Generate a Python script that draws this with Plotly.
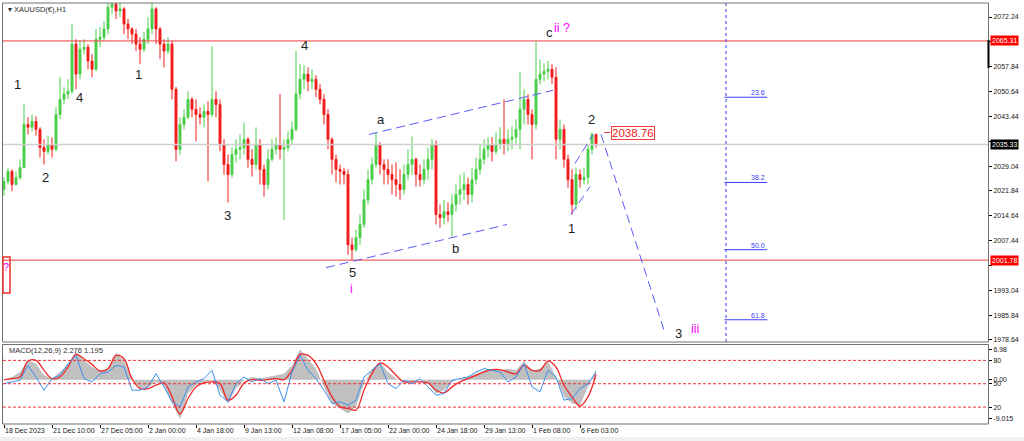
import plotly.graph_objects as go

W, H = 1024, 441

# ---------------- price data (candles, one per ~5 H1 bars) ----------------
OPEN = [2022.2, 2024.6, 2027.5, 2023.7, 2025.7, 2028.6, 2041.1, 2040.3, 2042.0, 2039.7,
        2034.4, 2033.3, 2035.3, 2033.9, 2044.0, 2048.4, 2049.9, 2050.7, 2064.4, 2055.7,
        2062.9, 2063.5, 2059.5, 2057.1, 2065.8, 2066.4, 2068.8, 2075.1, 2076.0, 2074.0,
        2074.6, 2070.2, 2068.8, 2067.3, 2064.4, 2062.9, 2065.8, 2068.8, 2074.6, 2068.8,
        2064.4, 2062.4, 2064.4, 2051.3, 2033.9, 2041.1, 2043.2, 2048.4, 2045.5, 2044.0,
        2043.2, 2044.9, 2044.0, 2048.4, 2046.9, 2035.3, 2029.5, 2026.6, 2032.4, 2033.9,
        2034.4, 2036.8, 2031.0, 2029.5, 2035.3, 2028.1, 2023.7, 2031.0, 2033.9, 2035.3,
        2033.9, 2034.4, 2036.8, 2039.7, 2049.9, 2054.2, 2055.7, 2053.6, 2054.2, 2051.3,
        2048.4, 2044.0, 2036.8, 2031.0, 2028.1, 2027.5, 2026.6, 2006.2, 2004.8, 2008.3,
        2012.1, 2019.3, 2025.1, 2029.5, 2035.3, 2029.5, 2028.1, 2026.6, 2025.1, 2023.7,
        2022.2, 2026.6, 2029.5, 2031.0, 2026.6, 2025.1, 2028.1, 2031.0, 2035.3, 2015.0,
        2014.1, 2015.8, 2015.0, 2017.9, 2020.8, 2022.2, 2023.7, 2020.8, 2025.1, 2028.1,
        2031.0, 2033.9, 2035.3, 2033.3, 2035.3, 2036.8, 2035.3, 2036.8, 2037.4, 2039.7,
        2045.5, 2048.4, 2044.0, 2041.1, 2054.2, 2055.7, 2056.5, 2057.1, 2054.8, 2036.8,
        2039.7, 2031.0, 2025.1, 2017.9, 2026.6, 2025.1, 2025.7, 2033.9, 2038.2]
HIGH = [2025.7, 2028.6, 2028.1, 2027.5, 2031.0, 2046.9, 2043.2, 2044.0, 2043.5, 2040.3,
        2036.8, 2037.9, 2037.4, 2046.1, 2054.8, 2051.9, 2054.2, 2070.2, 2065.8, 2065.3,
        2065.8, 2064.4, 2061.5, 2068.8, 2069.3, 2071.1, 2076.6, 2076.9, 2076.6, 2076.9,
        2075.1, 2071.7, 2069.3, 2068.8, 2066.4, 2067.9, 2072.2, 2076.6, 2075.1, 2069.3,
        2065.8, 2066.4, 2065.3, 2052.0, 2043.2, 2045.5, 2050.7, 2049.0, 2048.4, 2046.1,
        2046.9, 2047.8, 2063.8, 2050.7, 2048.4, 2036.8, 2032.4, 2034.4, 2036.8, 2038.2,
        2041.7, 2037.4, 2033.9, 2040.3, 2036.8, 2029.5, 2033.9, 2036.8, 2037.4, 2049.9,
        2036.8, 2039.1, 2042.0, 2062.4, 2058.6, 2058.3, 2057.7, 2057.1, 2055.4, 2052.8,
        2049.9, 2045.5, 2037.4, 2032.4, 2029.5, 2028.6, 2028.1, 2008.3, 2010.6, 2015.0,
        2022.2, 2028.1, 2031.5, 2038.8, 2036.0, 2031.0, 2031.0, 2029.5, 2030.1, 2028.1,
        2029.5, 2033.9, 2037.6, 2031.5, 2029.5, 2031.0, 2034.4, 2036.8, 2036.5, 2017.9,
        2019.3, 2018.5, 2020.8, 2023.7, 2026.6, 2027.2, 2025.7, 2028.6, 2031.5, 2035.3,
        2036.8, 2037.4, 2037.4, 2038.8, 2040.3, 2048.4, 2039.7, 2040.6, 2042.6, 2056.3,
        2051.3, 2049.9, 2045.5, 2065.3, 2060.0, 2058.9, 2059.5, 2058.6, 2057.7, 2042.6,
        2041.1, 2032.4, 2028.1, 2028.6, 2028.1, 2028.6, 2035.3, 2038.8, 2038.5]
LOW = [2020.5, 2023.7, 2021.7, 2023.4, 2025.1, 2028.6, 2038.2, 2039.1, 2037.9, 2031.5,
       2029.5, 2032.4, 2031.5, 2033.3, 2042.6, 2046.9, 2048.4, 2049.9, 2051.3, 2054.2,
       2061.5, 2057.1, 2054.8, 2056.5, 2063.5, 2065.3, 2067.3, 2073.1, 2071.7, 2072.2,
       2067.3, 2065.8, 2064.4, 2062.4, 2058.6, 2062.1, 2064.4, 2067.3, 2064.4, 2060.0,
       2057.7, 2061.5, 2048.4, 2030.4, 2032.4, 2039.7, 2042.6, 2043.2, 2036.2, 2041.1,
       2040.3, 2024.6, 2043.2, 2043.2, 2033.3, 2026.6, 2018.5, 2025.7, 2030.1, 2031.0,
       2032.4, 2028.6, 2026.0, 2028.1, 2023.7, 2020.2, 2022.2, 2030.4, 2032.4, 2031.0,
       2013.5, 2033.3, 2035.3, 2039.1, 2048.4, 2051.3, 2050.7, 2051.3, 2049.0, 2046.9,
       2041.1, 2033.9, 2026.6, 2024.3, 2023.7, 2023.7, 2003.3, 2001.8, 2004.2, 2006.2,
       2011.2, 2017.9, 2023.7, 2028.6, 2026.6, 2023.7, 2023.7, 2020.8, 2020.2, 2019.3,
       2020.8, 2025.1, 2026.6, 2023.1, 2023.1, 2023.7, 2025.1, 2028.1, 2012.1, 2011.2,
       2012.1, 2012.9, 2008.6, 2015.8, 2017.9, 2019.3, 2017.9, 2018.5, 2023.7, 2026.6,
       2029.5, 2031.5, 2030.4, 2032.4, 2033.9, 2032.4, 2033.3, 2033.9, 2035.3, 2033.9,
       2041.1, 2041.1, 2031.0, 2039.7, 2052.8, 2053.6, 2054.2, 2052.8, 2031.0, 2033.9,
       2028.6, 2022.8, 2015.0, 2016.5, 2022.8, 2023.7, 2023.7, 2032.4, 2034.4]
CLOSE = [2024.6, 2027.5, 2023.7, 2025.7, 2028.6, 2041.1, 2040.3, 2042.0, 2039.7, 2034.4,
         2033.3, 2035.3, 2033.9, 2044.0, 2048.4, 2049.9, 2050.7, 2064.4, 2055.7, 2062.9,
         2063.5, 2059.5, 2057.1, 2065.8, 2066.4, 2068.8, 2075.1, 2076.0, 2074.0, 2074.6,
         2070.2, 2068.8, 2067.3, 2064.4, 2062.9, 2065.8, 2068.8, 2074.6, 2068.8, 2064.4,
         2062.4, 2064.4, 2051.3, 2033.9, 2041.1, 2043.2, 2048.4, 2045.5, 2044.0, 2043.2,
         2044.9, 2044.0, 2048.4, 2046.9, 2035.3, 2029.5, 2026.6, 2032.4, 2033.9, 2034.4,
         2036.8, 2031.0, 2029.5, 2035.3, 2028.1, 2023.7, 2031.0, 2033.9, 2035.3, 2033.9,
         2034.4, 2036.8, 2039.7, 2049.9, 2054.2, 2055.7, 2053.6, 2054.2, 2051.3, 2048.4,
         2044.0, 2036.8, 2031.0, 2028.1, 2027.5, 2026.6, 2006.2, 2004.8, 2008.3, 2012.1,
         2019.3, 2025.1, 2029.5, 2035.3, 2029.5, 2028.1, 2026.6, 2025.1, 2023.7, 2022.2,
         2026.6, 2029.5, 2031.0, 2026.6, 2025.1, 2028.1, 2031.0, 2035.3, 2015.0, 2014.1,
         2015.8, 2015.0, 2017.9, 2020.8, 2022.2, 2023.7, 2020.8, 2025.1, 2028.1, 2031.0,
         2033.9, 2035.3, 2033.3, 2035.3, 2036.8, 2035.3, 2036.8, 2037.4, 2039.7, 2045.5,
         2048.4, 2044.0, 2041.1, 2054.2, 2055.7, 2056.5, 2057.1, 2054.8, 2036.8, 2039.7,
         2031.0, 2025.1, 2017.9, 2026.6, 2025.1, 2025.7, 2033.9, 2038.2, 2035.3]
BAR = list(range(len(CLOSE)))

# ---------------- MACD panel data (every 2nd candle) ----------------
MACD_BAR = list(range(0, len(CLOSE), 2))
MACD_HIST = [-0.11, 0.65, 1.79, 4.61, 3.70, 1.03, 0.27, 1.79, 3.54, 6.36,
             4.46, 2.93, 2.17, 2.55, 6.13, 4.46, 0.27, -2.02, -1.64, -0.50,
             -1.26, -5.45, -9.0, -3.16, -1.26, -0.50, -0.11, -2.40, -5.45, -2.02,
             -0.11, 0.65, 0.27, 0.65, 1.03, 1.41, 3.31, 6.98, 4.84, 2.55,
             -1.64, -5.45, -6.59, -7.73, -6.21, -0.88, 2.55, 4.08, 1.79, 0.27,
             -0.11, -0.50, -0.11, -0.50, -3.16, -2.40, -0.50, 0.27, 0.65, 1.41,
             2.17, 2.55, 2.17, 2.55, 2.17, 4.30, 2.17, 2.55, 4.30, 0.65,
             -3.92, -5.45, -5.83, -1.64, 2.28]
MACD_SIGNAL = [0.04, 0.27, 0.65, 4.30, 4.46, 2.17, 0.27, 0.65, 2.93, 5.83,
               4.84, 3.54, 2.02, 2.55, 5.60, 4.84, 0.27, -2.02, -2.02, -1.26,
               -0.72, -3.92, -7.89, -4.30, -1.64, -0.72, -0.50, -0.88, -4.69, -3.54,
               -0.72, 0.04, -0.11, 0.04, 0.27, 0.04, 2.17, 5.83, 5.60, 3.70,
               -0.11, -3.92, -6.21, -6.59, -6.97, -2.40, 1.41, 3.85, 2.93, 1.03,
               -0.50, -0.50, -0.50, -0.72, -2.40, -3.01, -1.64, -0.50, 0.27, 1.03,
               1.79, 2.32, 2.32, 1.79, 1.41, 3.31, 2.17, 2.17, 4.30, 2.93,
               -1.26, -3.92, -6.06, -3.92, 1.20]
OSC_LINE = [50.2, 52.3, 54.5, 73.6, 58.7, 41.7, 56.6, 60.9, 75.7, 86.4,
            56.6, 52.3, 63.0, 65.1, 73.6, 71.5, 41.7, 41.7, 46.0, 63.0,
            46.0, 26.8, 20.4, 46.0, 52.3, 56.6, 67.2, 35.3, 26.8, 50.2,
            58.7, 52.3, 56.6, 50.2, 54.5, 26.8, 65.1, 86.4, 67.2, 56.6,
            41.7, 24.7, 26.8, 22.6, 28.9, 58.7, 67.2, 75.7, 50.2, 43.8,
            54.5, 50.2, 56.6, 46.0, 35.3, 37.4, 54.5, 56.6, 58.7, 65.1,
            69.4, 67.2, 65.1, 52.3, 58.7, 75.7, 46.0, 39.6, 67.2, 58.7,
            28.9, 31.1, 43.8, 50.2, 65.1]
OSC_LEVELS = [80, 50, 20]
MACD_TICKS = [6.98, 0.0, -9.015]
MACD_TICKTEXT = ["6.98", "0.00", "-9.015"]

# ---------------- axes labels / levels ----------------
PRICE_TICKS = [2072.24, 2065.04, 2057.84, 2050.64, 2043.44, 2036.24, 2029.04,
               2021.84, 2014.64, 2007.44, 2000.24, 1993.04, 1985.84, 1978.64]
# ticks whose labels sit under the coloured price boxes
COVERED_TICKS = [2065.04, 2036.24, 2000.24]
DATE_LABELS = ["18 Dec 2023", "21 Dec 10:00", "27 Dec 05:00", "2 Jan 00:00",
               "4 Jan 18:00", "9 Jan 13:00", "12 Jan 08:00", "17 Jan 05:00",
               "22 Jan 00:00", "24 Jan 18:00", "29 Jan 13:00", "1 Feb 08:00",
               "6 Feb 03:00"]
DATE_BARS = [0, 12, 24, 36, 48, 60, 72, 84, 96, 108, 120, 132, 144]

RESIST = 2065.31
SUPPORT = 2001.78
BID = 2035.33
WAVE2_PRICE = 2038.76

FIB_NAMES = ["23.6", "38.2", "50.0", "61.8"]
FIB_PRICES = [2049.0, 2024.3, 2004.8, 1984.5]
FIB_BAR_START = 180.1
FIB_BAR_END = 190.8
TIME_LINE_BAR = 180.5

# wave labels: (text, bar, price, colour)
WAVES = [("1", 3.25, 2052.8, "k"), ("2", 10.25, 2025.7, "k"), ("4", 18.75, 2049.0, "k"),
         ("1", 33.5, 2055.7, "k"), ("3", 55.75, 2014.7, "k"), ("4", 75.0, 2064.1, "k"),
         ("a", 94.25, 2042.6, "k"), ("5", 87.0, 1998.1, "k"), ("b", 112.75, 2005.1, "k"),
         ("c", 136.25, 2067.9, "k"), ("2", 146.75, 2042.6, "k"), ("1", 141.75, 2010.9, "k"),
         ("3", 168.5, 1980.4, "k"),
         ("i", 86.75, 1993.5, "m"), ("ii ?", 139.4, 2069.1, "m"), ("iii", 172.75, 1981.7, "m")]

# analyst trendlines: ((bar0, price0), (bar1, price1))
TRENDLINES = [((91.25, 2038.2), (137.25, 2051.0)),
              ((80.5, 1999.6), (125.75, 2012.1)),
              ((141.75, 2015.0), (146.5, 2023.1)),
              ((142.75, 2029.8), (147.25, 2038.2)),
              ((149.25, 2038.2), (165.0, 1981.5))]

# ---------------- figure ----------------
def py(y):
    return 1 - y / H

def px(x):
    return x / W

X_DOM = [px(3), px(988)]
X_RANGE = [-0.25, 246.0]
FONT = "Liberation Sans"

fig = go.Figure()
fig.add_trace(go.Candlestick(
    x=BAR, open=OPEN, high=HIGH, low=LOW, close=CLOSE,
    increasing=dict(line=dict(color="#4ccd4c", width=1), fillcolor="#4ccd4c"),
    decreasing=dict(line=dict(color="#f01e1e", width=1), fillcolor="#f01e1e"),
    whiskerwidth=0, xaxis="x", yaxis="y", hoverinfo="skip", showlegend=False))

fig.add_trace(go.Scatter(x=MACD_BAR, y=MACD_HIST, mode="lines", fill="tozeroy",
                         fillcolor="#c0c0c0", line=dict(width=0, color="#c0c0c0"),
                         xaxis="x2", yaxis="y2", hoverinfo="skip", showlegend=False))
fig.add_trace(go.Scatter(x=MACD_BAR, y=OSC_LINE, mode="lines",
                         line=dict(width=1, color="#3d8ff0"),
                         xaxis="x2", yaxis="y3", hoverinfo="skip", showlegend=False))
fig.add_trace(go.Scatter(x=MACD_BAR, y=MACD_SIGNAL, mode="lines",
                         line=dict(width=1.3, color="#f02828", shape="spline"),
                         xaxis="x2", yaxis="y2", hoverinfo="skip", showlegend=False))

shapes = []
for lvl, col, wd in [(BID, "#cfcfcf", 1.5), (RESIST, "#f03c3c", 1), (SUPPORT, "#f03c3c", 1)]:
    shapes.append(dict(type="line", xref="x domain", yref="y", x0=0, x1=1, y0=lvl, y1=lvl,
                       line=dict(color=col, width=wd), layer="above"))
shapes.append(dict(type="line", xref="x", yref="y domain", x0=TIME_LINE_BAR, x1=TIME_LINE_BAR,
                   y0=0, y1=1, line=dict(color="#3b3bff", width=1, dash="dot")))
for p in FIB_PRICES:
    shapes.append(dict(type="line", xref="x", yref="y", x0=FIB_BAR_START, x1=FIB_BAR_END,
                       y0=p, y1=p, line=dict(color="#3b3bff", width=1)))
for (b0, p0), (b1, p1) in TRENDLINES:
    shapes.append(dict(type="line", xref="x", yref="y", x0=b0, y0=p0, x1=b1, y1=p1,
                       line=dict(color="#5a5aff", width=1, dash="9px,5px")))
shapes.append(dict(type="line", xref="x", yref="y", x0=150.0, x1=151.6, y0=WAVE2_PRICE,
                   y1=WAVE2_PRICE, line=dict(color="#f03c3c", width=1)))
for lv in OSC_LEVELS:
    shapes.append(dict(type="line", xref="x2 domain", yref="y3", x0=0, x1=1, y0=lv, y1=lv,
                       line=dict(color="#f03030", width=1, dash="3px,2px")))
shapes.append(dict(type="rect", xref="paper", yref="paper", x0=px(2.5), x1=px(988.5),
                   y0=py(342), y1=py(3), line=dict(color="#707070", width=1)))
shapes.append(dict(type="rect", xref="paper", yref="paper", x0=px(2.5), x1=px(988.5),
                   y0=py(424), y1=py(344.5), line=dict(color="#707070", width=1)))
shapes.append(dict(type="rect", xref="paper", yref="paper", x0=px(3), x1=px(10),
                   y0=py(293), y1=py(257), line=dict(color="#f03030", width=1.5)))
shapes.append(dict(type="line", xref="paper", yref="paper", x0=px(988.5), x1=px(988.5),
                   y0=py(68), y1=py(40), line=dict(color="black", width=2)))
shapes.append(dict(type="rect", xref="paper", yref="paper", x0=0, x1=1, y0=0, y1=py(437),
                   fillcolor="#f0f0f0", line=dict(width=0), layer="below"))

ann = []
for txt, b, p, c in WAVES:
    col = "#1e1e1e" if c == "k" else "#ff00ff"
    size = 13 if c == "k" else 12.5
    ann.append(dict(x=b, y=p, xref="x", yref="y", text=txt, showarrow=False,
                    font=dict(family=FONT, size=size, color=col),
                    xanchor="center", yanchor="middle"))
for name, p in zip(FIB_NAMES, FIB_PRICES):
    ann.append(dict(x=FIB_BAR_END, y=p, xref="x", yref="y", text=name, showarrow=False,
                    font=dict(family=FONT, size=7, color="#3b3bff"),
                    xanchor="right", yanchor="bottom", yshift=-1))
ann.append(dict(x=157.3, y=WAVE2_PRICE, xref="x", yref="y", text="2038.76", showarrow=False,
                font=dict(family=FONT, size=11.5, color="#f02020"), bgcolor="white",
                bordercolor="#f03c3c", borderwidth=1, borderpad=0,
                xanchor="center", yanchor="middle"))
for val, bg in [(RESIST, "#ff0000"), (BID, "#000000"), (SUPPORT, "#ff0000")]:
    ann.append(dict(x=px(990), y=val, xref="paper", yref="y", text=f"{val:.2f}",
                    showarrow=False, font=dict(family=FONT, size=7, color="white"),
                    bgcolor=bg, borderpad=1, xanchor="left", yanchor="middle"))
ann.append(dict(x=px(5.5), y=py(267), xref="paper", yref="paper", text="?", showarrow=False,
                font=dict(family=FONT, size=11, color="#ff00ff"), xanchor="center", yanchor="middle"))
ann.append(dict(x=px(6), y=py(10), xref="paper", yref="paper", text="▾ XAUUSD(€),H1",
                showarrow=False, font=dict(family=FONT, size=7.5, color="#303030"),
                xanchor="left", yanchor="middle"))
ann.append(dict(x=px(7), y=py(350), xref="paper", yref="paper", text="MACD(12,26,9) 2.276 1.195",
                showarrow=False, font=dict(family=FONT, size=7.5, color="#303030"),
                xanchor="left", yanchor="middle"))
for lab, b in zip(DATE_LABELS, DATE_BARS):
    ann.append(dict(x=b, y=py(430), xref="x2", yref="paper", text=lab, showarrow=False,
                    font=dict(family=FONT, size=7, color="#202020"),
                    xanchor="left", yanchor="middle", xshift=-1))

price_ticktext = ["" if v in COVERED_TICKS else f"{v:.2f}" for v in PRICE_TICKS]

fig.update_layout(
    width=W, height=H, margin=dict(l=0, r=0, t=0, b=0),
    paper_bgcolor="white", plot_bgcolor="white", showlegend=False, hovermode=False,
    font=dict(family=FONT, size=7, color="black"),
    xaxis=dict(domain=X_DOM, range=X_RANGE, anchor="y", showticklabels=False, showgrid=False,
               zeroline=False, ticks="", rangeslider=dict(visible=False), fixedrange=True),
    yaxis=dict(domain=[py(342), py(3)], range=[1978.05, 2076.31], side="right",
               tickvals=PRICE_TICKS, ticktext=price_ticktext,
               ticks="outside", ticklen=3, tickcolor="black", showline=True, linecolor="black",
               showgrid=False, zeroline=False, tickfont=dict(family=FONT, size=7, color="#202020"),
               fixedrange=True),
    xaxis2=dict(domain=X_DOM, range=X_RANGE, anchor="y2", showticklabels=False,
                tickvals=DATE_BARS, ticks="outside", ticklen=3, tickcolor="black",
                showgrid=False, zeroline=False, fixedrange=True),
    yaxis2=dict(domain=[py(424), py(344.5)], range=[-10.17, 8.11], anchor="x2", side="right",
                tickvals=MACD_TICKS, ticktext=MACD_TICKTEXT, ticks="outside", ticklen=3,
                tickcolor="black", showline=True, linecolor="black", showgrid=False,
                zeroline=False, tickfont=dict(family=FONT, size=7, color="#202020"), fixedrange=True),
    yaxis3=dict(overlaying="y2", range=[-1.7, 100.4], anchor="x2", side="right",
                tickvals=OSC_LEVELS, ticktext=[str(v) for v in OSC_LEVELS], ticks="outside",
                ticklen=3, tickcolor="black", showgrid=False, zeroline=False, showline=False,
                tickfont=dict(family=FONT, size=7, color="#202020"), fixedrange=True),
    shapes=shapes, annotations=ann,
)

fig.write_html("out.html", config={"displayModeBar": False},
               post_script="document.body.style.margin='0px';document.body.style.overflow='hidden';")
